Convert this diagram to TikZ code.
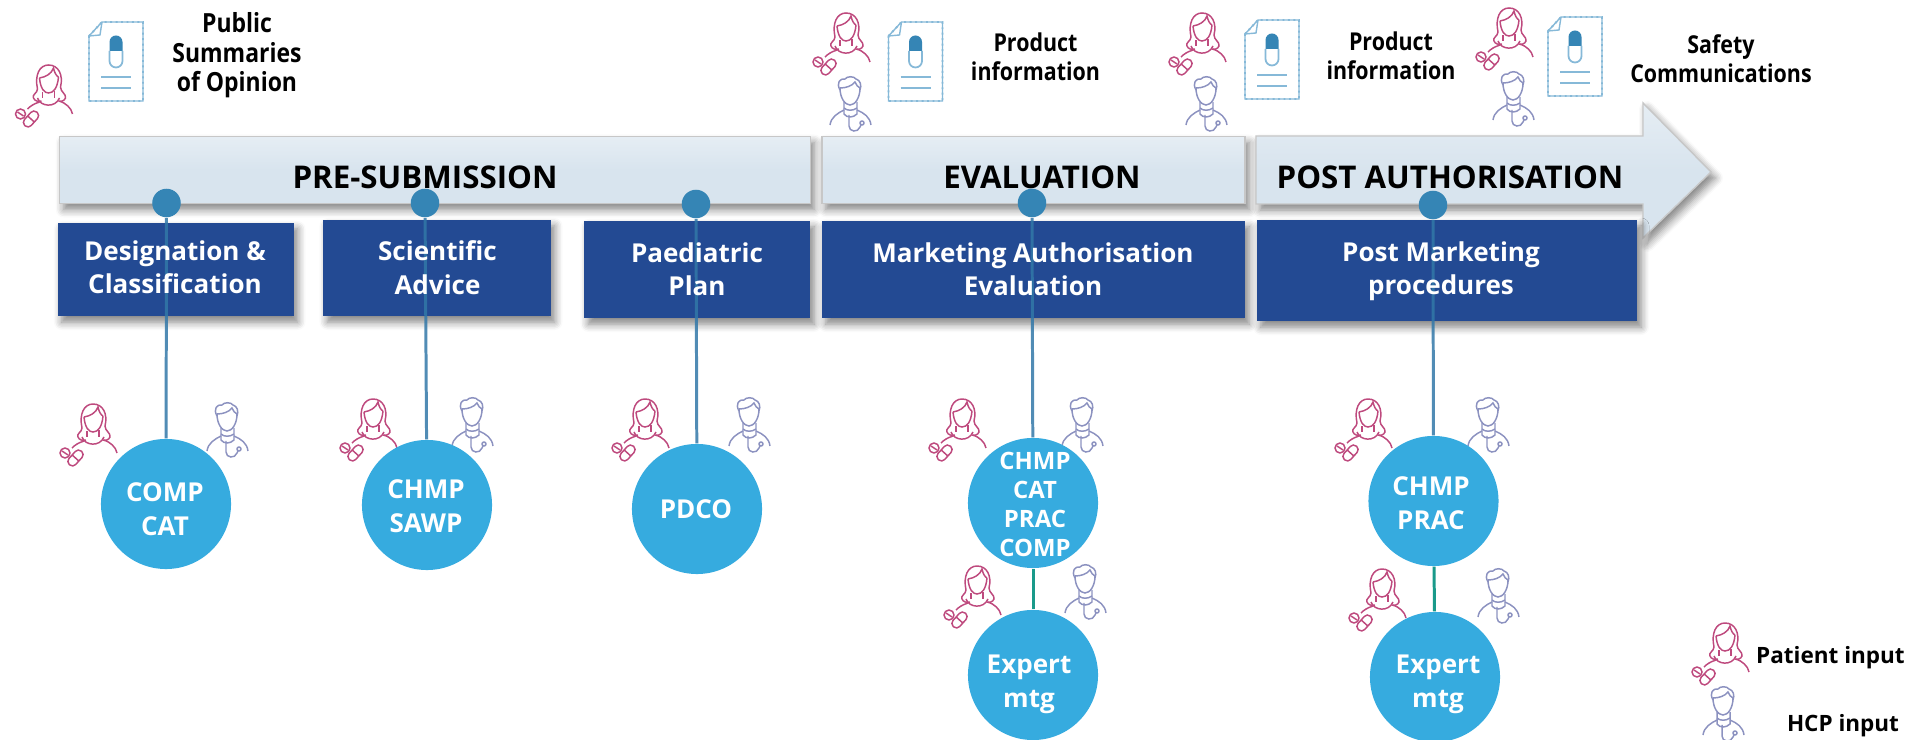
\documentclass[tikz,border=0pt]{standalone}
\usepackage{fontspec}
\setmainfont{Open Sans}
\newfontfamily\narrowsans{Open Sans}[FakeStretch=0.87]
\usetikzlibrary{shadows.blur}
\pgfdeclarelayer{bandlayer}
\pgfdeclarelayer{linelayer}
\pgfsetlayers{bandlayer,linelayer,main}
\definecolor{bandblue}{HTML}{D8E4EE}
\definecolor{navybox}{HTML}{234A93}
\definecolor{skycirc}{HTML}{36ABDF}
\definecolor{dotblue}{HTML}{3585B5}
\definecolor{stemblue}{HTML}{3278A8}
\definecolor{tealline}{HTML}{1A9A8A}
\definecolor{pinkicon}{HTML}{BE4A7E}
\definecolor{hcpicon}{HTML}{8C92C0}
\definecolor{docline}{HTML}{86B9D8}
\tikzset{
	softshadow/.style={blur shadow={shadow xshift=0.04cm,shadow yshift=-0.06cm,shadow blur radius=0.08cm,shadow blur steps=6,shadow opacity=50}},
	bandbar/.style={draw=black!22,line width=0.4pt,top color=bandblue!65!white,bottom color=bandblue,middle color=bandblue,softshadow},
	bandbox/.style={rectangle,bandbar,inner sep=0pt},
	procbox/.style={rectangle,fill=navybox,inner sep=0pt,softshadow},
	bandtext/.style={font=\fontsize{8.9}{10}\selectfont\bfseries,text=black,inner sep=0pt},
	toptext/.style={font=\narrowsans\fontsize{7}{8.4}\selectfont\bfseries,text=black,align=center,inner sep=0pt},
	boxtext/.style={font=\fontsize{7.4}{9.5}\selectfont\bfseries,text=white,align=center,inner sep=0pt},
	circtext/.style={font=\fontsize{7.4}{9.6}\selectfont\bfseries,text=white,align=center,inner sep=0pt},
	keytext/.style={font=\fontsize{6.4}{8}\selectfont\bfseries,text=black,inner sep=0pt},
	panel/.style={circle,fill=skycirc,minimum size=1.3cm,inner sep=0pt},
	tldot/.style={circle,fill=dotblue,minimum size=0.285cm,inner sep=0pt},
	stemline/.style={line width=0.85pt,stemblue,opacity=0.85},
	linkline/.style={line width=0.85pt,tealline},
	patient/.pic={
		\begin{scope}[pinkicon,line width=0.42pt]
			\draw (22,24) .. controls (19,10) and (24,0) .. (33,0) .. controls (43,0) and (48,10) .. (45,22) .. controls (45,27) and (51,29) .. (50,33) .. controls (49,36) and (45,37) .. (43,36);
			\draw (22,24) .. controls (22,28) and (16,30) .. (18,33) .. controls (19,36) and (23,37) .. (26,36);
			\draw (24,13) .. controls (25,24) and (29,28) .. (33,28) .. controls (38,28) and (42,23) .. (43,12);
			\draw (24,13) .. controls (30,12) and (36,9) .. (38,3) .. controls (39,8) and (41,11) .. (43,12);
			\draw (27,27) -- (27,33) (39,26) -- (39,33);
			\draw (22,33) .. controls (25,42) and (40,43) .. (44,33);
			\draw (24,37) .. controls (18,39) and (15,41) .. (12,44);
			\draw (44,36) .. controls (50,38) and (56,43) .. (57,49);
			\draw (5,49) circle (5);
			\draw (2,47) -- (8,51);
			\draw[rounded corners=1.2pt,rotate around={48:(15.5,54)}] (6.5,49.5) rectangle (24.5,58.5);
			\draw[rotate around={48:(15.5,54)}] (15.5,49.5) -- (15.5,58.5);
		\end{scope}
	},
	hcp/.pic={
		\begin{scope}[hcpicon,line width=0.42pt]
			\draw (10,13) .. controls (6,6) and (10,1) .. (15,2) .. controls (17,-1) and (24,-1) .. (26,2) .. controls (30,3) and (32,8) .. (30,13);
			\draw (10,11) .. controls (16,11) and (22,9) .. (25,5) .. controls (26,8) and (28,10) .. (30,11);
			\draw (10,11) .. controls (10,21) and (15,28) .. (20,28) .. controls (25,28) and (30,21) .. (30,11);
			\draw (14,25) -- (14,37) .. controls (17,41) and (23,41) .. (27,37) -- (27,25);
			\draw (14,31) .. controls (17,34) and (23,34) .. (27,31);
			\draw (14,33) .. controls (8,36) and (1,40) .. (0,48);
			\draw (27,33) .. controls (34,36) and (40,40) .. (41,48);
			\draw (19,38) -- (19,49) .. controls (19,55) and (28,56) .. (30,50) -- (31,48);
			\draw (32,46) circle (2);
		\end{scope}
	},
	leaflet/.pic={
		\draw[docline,line width=0.55pt,densely dotted,fill=white] (0,14) -- (13,0) -- (54,0) -- (54,79) -- (0,79) -- cycle;
		\draw[docline,line width=0.4pt] (0,14) -- (13,0) -- (54,0) -- (54,79) -- (0,79) -- cycle;
		\draw[docline,line width=0.4pt] (13,0) -- (11,13) -- (0,14);
		\fill[dotblue] (20.5,29) -- (20.5,20) arc[start angle=180,end angle=360,x radius=6.5,y radius=6.5] -- (33.5,29) -- cycle;
		\draw[docline,line width=0.5pt] (20.5,29) -- (20.5,39) arc[start angle=180,end angle=0,x radius=6.5,y radius=6.5] -- (33.5,29);
		\draw[docline,line width=0.6pt] (12,55) -- (42,55) (12,66) -- (42,66);
	},
}
\begin{document}
\begin{tikzpicture}[x=0.01cm,y=-0.01cm]
	\useasboundingbox (0,0) rectangle (1914,740);
	\begin{pgfonlayer}{bandlayer}
		% timeline bands
		\node[bandbox,minimum width=7.5cm,minimum height=0.67cm] (presub) at (435,170) {};
		\node[bandbox,minimum width=4.23cm,minimum height=0.67cm] (evalband) at (1033.5,170) {};
		\draw[bandbar] (1256,136) -- (1643,136) -- (1643,103) -- (1711,172) -- (1643,238) -- (1643,204) -- (1256,204) -- cycle;
		% procedure boxes
		\node[procbox,minimum width=2.355cm,minimum height=0.93cm] (designation) at (175.75,269.5) {};
		\node[procbox,minimum width=2.27cm,minimum height=0.96cm] (advice) at (437,268) {};
		\node[procbox,minimum width=2.255cm,minimum height=0.97cm] (paediatric) at (697.25,269.5) {};
		\node[procbox,minimum width=4.23cm,minimum height=0.97cm] (marketing) at (1033.5,269.5) {};
		\node[procbox,minimum width=3.8cm,minimum height=1.01cm] (postmkt) at (1447,270.5) {};
	\end{pgfonlayer}
	% band and box labels
	\node[bandtext] (presubtext) at (425,177) {PRE-SUBMISSION};
	\node[bandtext] (evaltext) at (1042,177) {EVALUATION};
	\node[bandtext] (posttext) at (1450,177) {POST AUTHORISATION};
	\node[boxtext] (designationtext) at (175,267.5) {Designation \&\\Classification};
	\node[boxtext] (advicetext) at (437.5,267.5) {Scientific\\Advice};
	\node[boxtext] (paediatrictext) at (697,269.5) {Paediatric\\Plan};
	\node[boxtext] (marketingtext) at (1033,269) {Marketing Authorisation\\Evaluation};
	\node[boxtext] (postmkttext) at (1441,271.5) {Post Marketing\\procedures};
	% output texts along the top
	\node[toptext,font=\narrowsans\fontsize{7.5}{8.4}\selectfont\bfseries] (pubsum) at (237,55.5) {Public\\Summaries\\of Opinion};
	\node[toptext] (prodone) at (1035.5,57) {Product\\information};
	\node[toptext] (prodtwo) at (1391,56) {Product\\information};
	\node[toptext] (safety) at (1721,58.5) {Safety\\Communications};
	% icons
	\pic at (89,22) {leaflet};
	\pic at (888.5,22) {leaflet};
	\pic at (1245,20) {leaflet};
	\pic at (1548,17) {leaflet};
	\pic at (15.5,65) {patient};
	\pic at (813,13) {patient};
	\pic at (1169,13) {patient};
	\pic at (1476,8) {patient};
	\pic at (60,404) {patient};
	\pic at (340,399) {patient};
	\pic at (612,399) {patient};
	\pic at (929,399) {patient};
	\pic at (944,566) {patient};
	\pic at (1335,399) {patient};
	\pic at (1349,569) {patient};
	\pic at (1692,623) {patient};
	\pic at (830,77) {hcp};
	\pic at (1186,77) {hcp};
	\pic at (1493,72) {hcp};
	\pic at (207,403) {hcp};
	\pic at (452,398) {hcp};
	\pic at (729,398) {hcp};
	\pic at (1062,398) {hcp};
	\pic at (1065,565) {hcp};
	\pic at (1468,398) {hcp};
	\pic at (1478,569) {hcp};
	\pic at (1703,687) {hcp};
	% committees
	\node[panel] (compcat) at (166,504) {};
	\node[panel] (sawp) at (427,505) {};
	\node[panel] (pdco) at (697,509) {};
	\node[panel] (chmpall) at (1033,503) {};
	\node[panel] (chmpprac) at (1433.5,501) {};
	\node[panel] (expertone) at (1033,675) {};
	\node[panel] (experttwo) at (1435,677) {};
	\node[tldot] (dotone) at (166.5,203) {};
	\node[tldot] (dottwo) at (425,203) {};
	\node[tldot] (dotthree) at (696,204) {};
	\node[tldot] (dotfour) at (1032,203) {};
	\node[tldot] (dotfive) at (1433,205) {};
	\begin{pgfonlayer}{linelayer}
		\draw[stemline] (dotone) -- (compcat);
		\draw[stemline] (dottwo) -- (sawp);
		\draw[stemline] (dotthree) -- (pdco);
		\draw[stemline] (dotfour) -- (chmpall);
		\draw[stemline] (dotfive) -- (chmpprac);
		\draw[linkline] (chmpall) -- (expertone);
		\draw[linkline] (chmpprac) -- (experttwo);
	\end{pgfonlayer}
	\node[circtext] (compcattext) at (165,509) {COMP\\CAT};
	\node[circtext] (sawptext) at (426,506) {CHMP\\SAWP};
	\node[circtext] (pdcotext) at (696,509) {PDCO};
	\node[circtext,font=\fontsize{6.8}{8.25}\selectfont\bfseries] (chmpalltext) at (1035,504) {CHMP\\CAT\\PRAC\\COMP};
	\node[circtext] (chmppractext) at (1431,503.5) {CHMP\\PRAC};
	\node[circtext] (expertonetext) at (1029,684) {Expert\\mtg};
	\node[circtext] (experttwotext) at (1438,684) {Expert\\mtg};
	% legend
	\node[keytext] (patientkey) at (1830.5,658) {Patient input};
	\node[keytext] (hcpkey) at (1843,726) {HCP input};
\end{tikzpicture}
\end{document}
